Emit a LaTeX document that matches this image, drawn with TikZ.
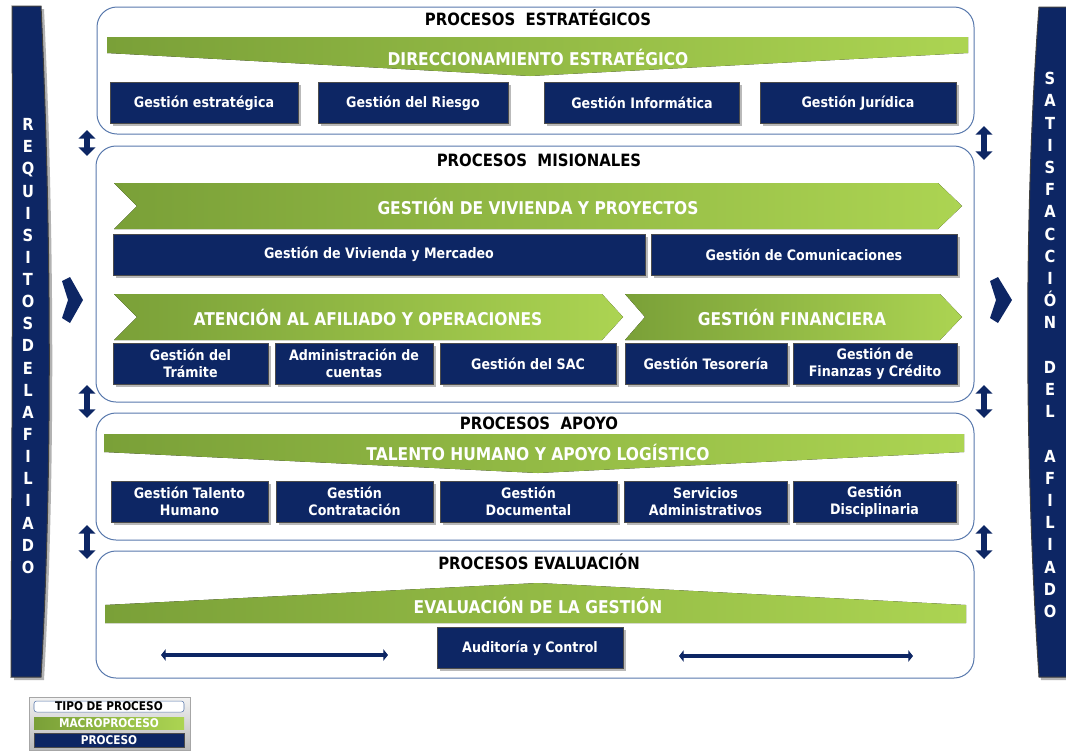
\documentclass[tikz,border=0pt]{standalone}
\usepackage{fontspec}
\setmainfont{DejaVu Sans}[FakeStretch=0.88]
\usetikzlibrary{arrows.meta,shadows}

\definecolor{navy}{RGB}{13,38,100}
\definecolor{grnD}{RGB}{122,160,56}
\definecolor{grnL}{RGB}{172,212,82}
\definecolor{framec}{RGB}{88,120,172}

\tikzset{
  procframe/.style={draw=framec, line width=0.75pt, rounded corners=15pt},
  grouptitle/.style={font=\fontsize{12.7}{13}\selectfont\bfseries, inner sep=0.75pt},
  proc/.style={draw=black!70, line width=0.5pt, fill=navy, text=white, align=center,
    font=\fontsize{10.8}{13}\selectfont\bfseries, inner sep=1pt, minimum height=30.75pt,
    drop shadow={shadow xshift=2pt, shadow yshift=-2pt, opacity=0.55}},
  pw/.style={minimum width=#1*0.75pt},
  macroshape/.style={left color=grnD, right color=grnL},
  macrotext/.style={text=white, font=\fontsize{13.2}{14}\selectfont\bfseries, inner sep=0.75pt},
  sidebar/.style={fill=navy, draw=black!75, line width=0.75pt},
  sidetext/.style={text=white, align=center, inner sep=0pt},
  varrow/.style={navy, line width=5pt, {Triangle[length=6.5pt,width=12.5pt]}-{Triangle[length=6.5pt,width=12.5pt]}},
  harrow/.style={navy, line width=3pt, {Triangle[length=3.5pt,width=8.5pt]}-{Triangle[length=3.5pt,width=8.5pt]}},
  legbox/.style={minimum width=112.5pt, inner sep=0pt, font=\fontsize{9}{9}\selectfont\bfseries}
}

\begin{document}
\begin{tikzpicture}[x=0.75pt,y=0.75pt,yscale=-1,xscale=1]
\useasboundingbox (0,0) rectangle (1066,751);

% side bars
\fill[black!30] (15,9) -- (44,9) .. controls (54,220) and (56,470) .. (44,680) -- (14,680) .. controls (15,450) and (16,220) .. (15,9) -- cycle ;
\draw[sidebar] (12,6) -- (41,6) .. controls (51,220) and (53,470) .. (41,677) -- (11,677) .. controls (12,450) and (13,220) .. (12,6) -- cycle ;
\fill[black!30] (1041,10) -- (1066,10) -- (1066,680) -- (1041,680) .. controls (1029,470) and (1027,220) .. (1041,10) -- cycle ;
\draw[sidebar] (1039,7) -- (1068,7) -- (1068,677) -- (1039,677) .. controls (1025,470) and (1023,220) .. (1039,7) -- cycle ;
\node[sidetext, font=\fontsize{12.5}{16.6}\selectfont\bfseries] (req) at (28,346) {R\\E\\Q\\U\\I\\S\\I\\T\\O\\S\\D\\E\\L\\A\\F\\I\\L\\I\\A\\D\\O};
\node[sidetext, font=\fontsize{12.5}{16.65}\selectfont\bfseries] (sat) at (1050,345) {S\\A\\T\\I\\S\\F\\A\\C\\C\\I\\Ó\\N\\\mbox{}\\D\\E\\L\\\mbox{}\\A\\F\\I\\L\\I\\A\\D\\O};

% flow arrows beside the bars
\fill[navy] (62,281) -- (70,277) -- (83,300) -- (70,323) -- (62,318) -- (68,300) -- cycle ;
\fill[navy] (990,281) -- (998,277) -- (1012,300) -- (998,323) -- (990,318) -- (996,300) -- cycle ;

% group frames
\draw[procframe] (97,7) rectangle (974,134);
\draw[procframe] (96,146) rectangle (974,402);
\draw[procframe] (96,413) rectangle (974,540);
\draw[procframe] (96,551) rectangle (974,678);

% links between groups
\coordinate (la1) at (87,130); \coordinate (lb1) at (87,156);
\coordinate (la2) at (87,385); \coordinate (lb2) at (87,418);
\coordinate (la3) at (87,525); \coordinate (lb3) at (87,559);
\coordinate (ra1) at (984,126); \coordinate (rb1) at (984,160);
\coordinate (ra2) at (984,385); \coordinate (rb2) at (984,418);
\coordinate (ra3) at (984,525); \coordinate (rb3) at (984,559);
\draw[varrow] (la1) -- (lb1);
\draw[varrow] (la2) -- (lb2);
\draw[varrow] (la3) -- (lb3);
\draw[varrow] (ra1) -- (rb1);
\draw[varrow] (ra2) -- (rb2);
\draw[varrow] (ra3) -- (rb3);

% estrategicos
\node[grouptitle] (tit1) at (538,18) {PROCESOS\ \ ESTRATÉGICOS};
\fill[macroshape] (107,37) -- (968,37) -- (968,53) -- (530,76) -- (107,53) -- cycle ;
\node[macrotext] (dir) at (538,57) {DIRECCIONAMIENTO ESTRATÉGICO};
\node[proc, pw=188] (gest) at (204,103) {Gestión estratégica};
\node[proc, pw=190] (gries) at (413,103) {Gestión del Riesgo};
\node[proc, pw=195] (ginf) at (642,103) {Gestión Informática};
\node[proc, pw=196] (gjur) at (858,103) {Gestión Jurídica};

% misionales
\node[grouptitle] (tit2) at (539,160) {PROCESOS\ \ MISIONALES};
\fill[macroshape] (114,183) -- (938,183) -- (962,206) -- (938,229) -- (114,229) -- (137,206) -- cycle ;
\node[macrotext] (viv) at (538,206) {GESTIÓN DE VIVIENDA Y PROYECTOS};
\node[proc, pw=532] (gvm) at (379,254.5) {Gestión de Vivienda y Mercadeo};
\node[proc, pw=306] (gcom) at (804,254.5) {Gestión de Comunicaciones};
\fill[macroshape] (114,294) -- (602,294) -- (623,317) -- (602,340) -- (114,340) -- (137,317) -- cycle ;
\node[macrotext] (ate) at (368,317) {ATENCIÓN AL AFILIADO Y OPERACIONES};
\fill[macroshape] (625,294) -- (940,294) -- (962,317) -- (940,340) -- (625,340) -- (645,317) -- cycle ;
\node[macrotext] (fin) at (792,317) {GESTIÓN FINANCIERA};
\node[proc, pw=155] (gtra) at (190.5,363.5) {Gestión del\\Trámite};
\node[proc, pw=158] (adm) at (354,363.5) {Administración de\\cuentas};
\node[proc, pw=176] (gsac) at (528,363.5) {Gestión del SAC};
\node[proc, pw=162] (gtes) at (706,363.5) {Gestión Tesorería};
\node[proc, pw=164] (gfcr) at (875,363.5) {Gestión de\\Finanzas y Crédito};

% apoyo
\node[grouptitle] (tit3) at (539,423) {PROCESOS\ \ APOYO};
\fill[macroshape] (104,434) -- (964,434) -- (964,452) -- (538,473) -- (104,452) -- cycle ;
\node[macrotext] (tal) at (538,452) {TALENTO HUMANO Y APOYO LOGÍSTICO};
\node[proc, pw=157] (gth) at (189.5,501.5) {Gestión Talento\\Humano};
\node[proc, pw=157] (gcon) at (354.5,501.5) {Gestión\\Contratación};
\node[proc, pw=177] (gdoc) at (528.5,501.5) {Gestión\\Documental};
\node[proc, pw=163] (sadm) at (705.5,501.5) {Servicios\\Administrativos};
\node[proc, pw=163] (gdis) at (874.5,501.5) {Gestión\\Disciplinaria};

% evaluacion
\node[grouptitle] (tit4) at (539,562) {PROCESOS EVALUACIÓN};
\fill[macroshape] (105,623) -- (966,623) -- (966,605) -- (538,583) -- (105,605) -- cycle ;
\node[macrotext] (eva) at (538,605) {EVALUACIÓN DE LA GESTIÓN};
\node[proc, pw=186] (aud) at (530,648) {Auditoría y Control};
\coordinate (ha1) at (161,655); \coordinate (hb1) at (388,655);
\coordinate (ha2) at (679,656); \coordinate (hb2) at (913,656);
\draw[harrow] (ha1) -- (hb1);
\draw[harrow] (ha2) -- (hb2);

% legend
\draw[top color=gray!10, bottom color=gray!55, draw=gray!70] (29,697) rectangle (190,750);
\node[legbox, fill=white, draw=framec, rounded corners=2pt, minimum height=8.25pt] (ltipo) at (109,706.5) {TIPO DE PROCESO};
\node[legbox, macroshape, text=white, minimum height=9pt] (lmacro) at (109,723) {MACROPROCESO};
\node[legbox, fill=navy, draw=black!70, text=white, minimum height=10.5pt] (lproc) at (109,740) {PROCESO};
\end{tikzpicture}
\end{document}
